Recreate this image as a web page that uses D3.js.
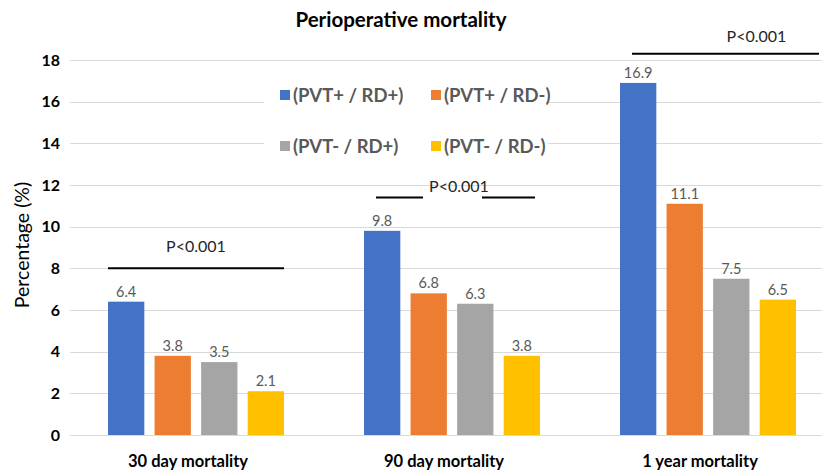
<!DOCTYPE html>
<html>
<head>
<meta charset="utf-8">
<script src="https://cdn.jsdelivr.net/npm/d3@7"></script>
<style>
  html, body { margin: 0; padding: 0; background: #fff; }
  svg { display: block; font-family: Lato, "Open Sans", sans-serif; }
</style>
</head>
<body>
<svg id="chart" width="822" height="473"></svg>
<script>
// Mortality groups and the four PVT / RD subgroups
const categories = ["30 day mortality", "90 day mortality", "1 year mortality"];
const seriesNames = ["(PVT+ / RD+)", "(PVT+ / RD-)", "(PVT- / RD+)", "(PVT- / RD-)"];
const seriesColors = ["#4472c4", "#ed7d31", "#a5a5a5", "#ffc000"];
const pvtPosRdPos = [6.4, 9.8, 16.9];
const pvtPosRdNeg = [3.8, 6.8, 11.1];
const pvtNegRdPos = [3.5, 6.3, 7.5];
const pvtNegRdNeg = [2.1, 3.8, 6.5];
const yTicks = [0, 2, 4, 6, 8, 10, 12, 14, 16, 18];
// significance bracket heights (in % units) and label for each group
const pLabels = ["P<0.001", "P<0.001", "P<0.001"];
const pLevels = [8.0, 11.4, 18.3];

const seriesValues = [pvtPosRdPos, pvtPosRdNeg, pvtNegRdPos, pvtNegRdNeg];

const svg = d3.select("#chart");
const W = 822, H = 473;

const x0 = d3.scaleBand().domain(categories).range([68, 836]).paddingInner(0).paddingOuter(0);
const x1 = d3.scaleBand().domain(seriesNames).range([40, 216]).paddingInner(0.22).paddingOuter(0);
const y = d3.scaleLinear().domain([0, 18]).range([435, 60]);

// gridlines
svg.append("g")
  .selectAll("line")
  .data(yTicks)
  .join("line")
  .attr("x1", 70).attr("x2", W)
  .attr("y1", d => Math.round(y(d)) + 0.5).attr("y2", d => Math.round(y(d)) + 0.5)
  .attr("stroke", "#d9d9d9").attr("stroke-width", 1);

// y axis tick labels
const yAxis = d3.axisLeft(y).tickValues(yTicks).tickSize(0).tickPadding(0);
const ya = svg.append("g").attr("transform", "translate(60,0)").call(yAxis);
ya.select(".domain").remove();
ya.selectAll("text")
  .attr("font-family", "Lato, sans-serif")
  .attr("font-size", 16).attr("font-weight", "bold").attr("fill", "#000");

// x axis category labels
const xAxis = d3.axisBottom(x0).tickSize(0).tickPadding(0);
const xa = svg.append("g").attr("transform", "translate(-8,455)").call(xAxis);
xa.select(".domain").remove();
xa.selectAll("text")
  .attr("font-family", "Lato, sans-serif")
  .attr("font-size", 16.5).attr("font-weight", "bold").attr("fill", "#000");

// bars
const groups = svg.append("g")
  .selectAll("g")
  .data(categories)
  .join("g")
  .attr("transform", d => `translate(${x0(d)},0)`);

groups.each(function(cat, ci) {
  const g = d3.select(this);
  const rows = seriesNames.map((s, si) => ({ s, si, v: seriesValues[si][ci] }));
  g.selectAll("rect")
    .data(rows)
    .join("rect")
    .attr("x", d => x1(d.s))
    .attr("width", x1.bandwidth())
    .attr("y", d => y(d.v))
    .attr("height", d => y(0) - y(d.v))
    .attr("fill", d => seriesColors[d.si]);
  g.selectAll("text.val")
    .data(rows)
    .join("text")
    .attr("class", "val")
    .attr("x", d => x1(d.s) + x1.bandwidth() / 2)
    .attr("y", d => y(d.v) - 5)
    .attr("text-anchor", "middle")
    .attr("font-size", 14.5)
    .attr("fill", "#595959")
    .text(d => d.v.toFixed(1));
});

// significance brackets
const firstX = ci => x0(categories[ci]) + x1(seriesNames[0]);
const lastX = ci => x0(categories[ci]) + x1(seriesNames[3]) + x1.bandwidth();
const pAnn = svg.append("g");

// 30 day: single line over all four bars
pAnn.append("line")
  .attr("x1", firstX(0)).attr("x2", lastX(0))
  .attr("y1", y(pLevels[0])).attr("y2", y(pLevels[0]))
  .attr("stroke", "#000").attr("stroke-width", 2);
pAnn.append("text")
  .attr("x", (firstX(0) + lastX(0)) / 2).attr("y", y(pLevels[0]) - 16)
  .attr("text-anchor", "middle").attr("font-size", 16).attr("fill", "#262626")
  .text(pLabels[0]);

// 90 day: line broken around the label
const c1 = (firstX(1) + lastX(1)) / 2;
pAnn.append("line")
  .attr("x1", firstX(1) + 12).attr("x2", c1 - 29)
  .attr("y1", y(pLevels[1])).attr("y2", y(pLevels[1]))
  .attr("stroke", "#000").attr("stroke-width", 2);
pAnn.append("line")
  .attr("x1", c1 + 30).attr("x2", lastX(1) - 5)
  .attr("y1", y(pLevels[1])).attr("y2", y(pLevels[1]))
  .attr("stroke", "#000").attr("stroke-width", 2);
pAnn.append("text")
  .attr("x", c1 + 7).attr("y", y(pLevels[1]) - 6)
  .attr("text-anchor", "middle").attr("font-size", 16).attr("fill", "#262626")
  .text(pLabels[1]);

// 1 year
const l2 = firstX(2) + 12, r2 = lastX(2) + 23;
pAnn.append("line")
  .attr("x1", l2).attr("x2", r2)
  .attr("y1", y(pLevels[2])).attr("y2", y(pLevels[2]))
  .attr("stroke", "#000").attr("stroke-width", 2);
pAnn.append("text")
  .attr("x", (l2 + r2) / 2 + 31).attr("y", y(pLevels[2]) - 12)
  .attr("text-anchor", "middle").attr("font-size", 16).attr("fill", "#262626")
  .text(pLabels[2]);

// legend box (white background over gridlines)
const legend = svg.append("g");
legend.append("rect")
  .attr("x", 264).attr("y", 74).attr("width", 284).attr("height", 92)
  .attr("fill", "#fff");
const legPos = [[280, 95], [431, 95], [280, 146], [431, 146]];
seriesNames.forEach((s, i) => {
  const [lx, ly] = legPos[i];
  legend.append("rect")
    .attr("x", lx).attr("y", ly - 5).attr("width", 10).attr("height", 10)
    .attr("fill", seriesColors[i]);
  legend.append("text")
    .attr("x", lx + 13).attr("y", ly).attr("dy", "0.36em")
    .attr("font-size", 18.5).attr("font-weight", "bold").attr("fill", "#595959")
    .text(s);
});

// title
svg.append("text")
  .attr("x", 401).attr("y", 27)
  .attr("text-anchor", "middle").attr("font-size", 20.5).attr("font-weight", "bold")
  .attr("fill", "#000")
  .text("Perioperative mortality");

// y axis title
svg.append("text")
  .attr("transform", "translate(29,245) rotate(-90)")
  .attr("text-anchor", "middle").attr("font-size", 19.5).attr("fill", "#000")
  .text("Percentage (%)");
</script>
</body>
</html>
